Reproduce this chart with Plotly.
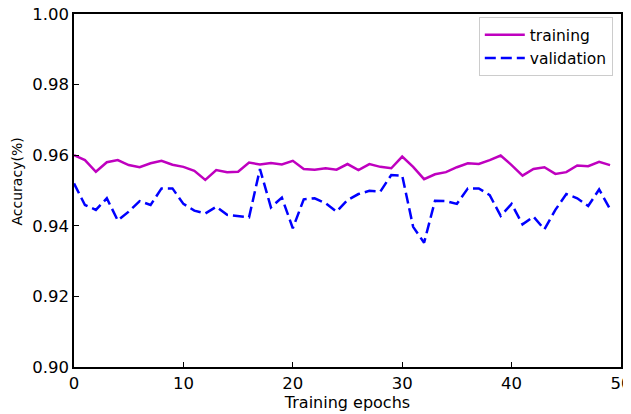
import plotly.graph_objects as go

epochs = list(range(50))
training = [0.9600, 0.9586, 0.9553, 0.9580, 0.9586, 0.9572, 0.9566, 0.9577, 0.9584, 0.9573,
            0.9567, 0.9556, 0.9530, 0.9558, 0.9552, 0.9553, 0.9579, 0.9574, 0.9578, 0.9574,
            0.9584, 0.9561, 0.9559, 0.9563, 0.9559, 0.9575, 0.9558, 0.9575, 0.9567, 0.9563,
            0.9596, 0.9567, 0.9532, 0.9546, 0.9552, 0.9566, 0.9577, 0.9575, 0.9586, 0.9599,
            0.9572, 0.9542, 0.9561, 0.9566, 0.9547, 0.9552, 0.9571, 0.9569, 0.9581, 0.9572]
validation = [0.9520, 0.9459, 0.9445, 0.9478, 0.9415, 0.9440, 0.9470, 0.9459, 0.9506, 0.9506,
              0.9462, 0.9443, 0.9435, 0.9454, 0.9431, 0.9428, 0.9424, 0.9561, 0.9452, 0.9480,
              0.9393, 0.9475, 0.9478, 0.9464, 0.9440, 0.9473, 0.9490, 0.9499, 0.9497, 0.9544,
              0.9542, 0.9397, 0.9352, 0.9471, 0.9470, 0.9462, 0.9506, 0.9506, 0.9487, 0.9428,
              0.9462, 0.9404, 0.9426, 0.9390, 0.9445, 0.9490, 0.9478, 0.9456, 0.9503, 0.9447]

font = "DejaVu Sans"
fig = go.Figure()
fig.add_trace(go.Scatter(x=epochs, y=training, mode="lines", name="training",
                         line=dict(color="#bf00bf", width=2.5)))
fig.add_trace(go.Scatter(x=epochs, y=validation, mode="lines", name="validation",
                         line=dict(color="#0000ff", width=2.5, dash="11px,5px")))

# page body has an 8px default margin; plot area placed to match the reference
fig.update_layout(
    width=631, height=414,
    margin=dict(l=66, r=18, t=6, b=55),
    paper_bgcolor="white", plot_bgcolor="white",
    font=dict(family=font, size=16.5, color="black"),
    showlegend=True,
    legend=dict(x=0.985, y=0.991, xanchor="right", yanchor="top",
                bordercolor="#cccccc", borderwidth=1, bgcolor="white",
                itemwidth=40, font=dict(size=15.5)),
    xaxis=dict(range=[0, 50], dtick=10, tick0=0, ticks="inside", ticklen=5,
               tickcolor="black", showline=True, linecolor="black", linewidth=1.5,
               mirror=True, showgrid=False, zeroline=False, automargin=False,
               tickfont=dict(size=16.5), ticklabeloverflow="allow",
               title=dict(text="Training epochs", standoff=2, font=dict(size=16))),
    yaxis=dict(range=[0.90, 1.00], dtick=0.02, tick0=0.90, tickformat=".2f",
               ticks="inside", ticklen=5, tickcolor="black", showline=True,
               linecolor="black", linewidth=1.5, mirror=True, showgrid=False,
               zeroline=False, automargin=False, tickfont=dict(size=16.5),
               ticklabeloverflow="allow"),
    annotations=[dict(text="Accuracy(%)", xref="paper", yref="paper",
                      x=-0.1024, y=0.5255, xanchor="center", yanchor="middle",
                      textangle=-90, showarrow=False, font=dict(size=14))],
)
fig.write_html("out.html")
